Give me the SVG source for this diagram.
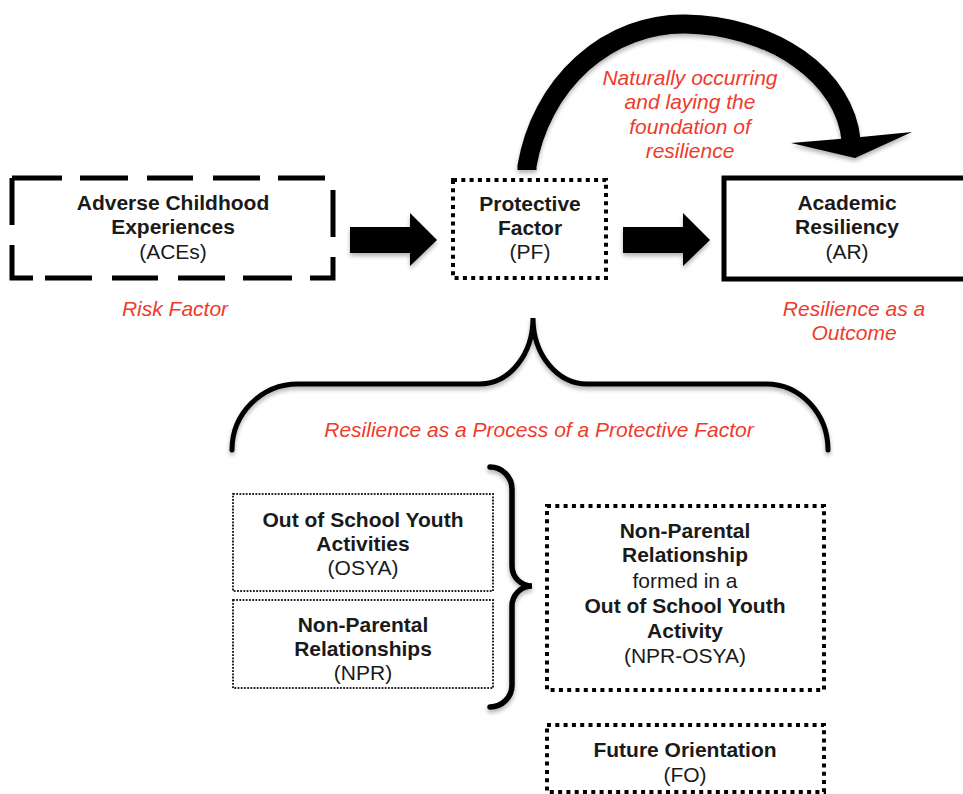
<svg xmlns="http://www.w3.org/2000/svg" width="963" height="794" viewBox="0 0 963 794">
  <defs>
    <filter id="shadow" x="-20%" y="-20%" width="140%" height="160%">
      <feDropShadow dx="0" dy="3" stdDeviation="2" flood-color="#000" flood-opacity="0.3"/>
    </filter>
  </defs>
  <style>
    text { font-family: "Liberation Sans", Arial, Helvetica, sans-serif; font-size: 21px; fill: #1a1a1a; text-anchor: middle; }
    .b { font-weight: bold; }
    .note { fill: #ee3b2b; font-style: italic; }
    .frame { fill: none; stroke: #000; }
    .dashed { stroke-width: 5; stroke-dasharray: 50 18 48 19 46 20 47 18 47 20 47 20 44 18 49 18 47 20 46 20 47 12 54 20 47 0; }
    .dotted { stroke-width: 4; stroke-dasharray: 4 4.3; }
    .fine { stroke-width: 2; stroke: #222; stroke-dasharray: 1.8 1.4; }
    .solid { stroke-width: 5; }
    .stroke { fill: none; stroke: #000; filter: url(#shadow); }
    .fillarrow { fill: #000; filter: url(#shadow); }
  </style>

  <rect width="963" height="794" fill="#fff"/>

  <!-- connectors -->
  <g id="connectors">
    <!-- ACEs to PF -->
    <polygon class="fillarrow" points="350,227 410,227 410,213 437,240 410,266 410,253 350,253"/>
    <!-- PF to AR -->
    <polygon class="fillarrow" points="623,227 683,227 683,213 710,240 683,266 683,253 623,253"/>
    <!-- curved arrow from PF over to AR -->
    <path class="stroke" stroke-width="19" d="M527,170 L527,166 A159,174 0 0,1 685,24 A170,125 0 0,1 851,140"/>
    <polygon class="fillarrow" points="791,143 851,138 912,132 855,158"/>
    <!-- brace under PF -->
    <path class="stroke" stroke-width="5" stroke-linecap="round"
          d="M232,450 A66,66 0 0,1 298,384 L480,384 A53,66 0 0,0 533,318 A54,66 0 0,0 587,384 L766,384 A62,66 0 0,1 828,450"/>
    <!-- brace grouping OSYA and NPR -->
    <path class="stroke" stroke-width="5.5" stroke-linecap="round"
          d="M490,467 A22,22 0 0,1 512,489 L512,566 A20,20 0 0,0 532,586 A20,20 0 0,0 512,606 L512,685 A22,22 0 0,1 490,707"/>
  </g>

  <!-- nodes -->
  <g id="aces">
    <path class="frame dashed" d="M12,178 H333 V278 H12 Z"/>
    <text class="b" x="173" y="210">Adverse Childhood</text>
    <text class="b" x="173" y="234">Experiences</text>
    <text x="173" y="259">(ACEs)</text>
    <text class="note" x="175" y="316">Risk Factor</text>
  </g>

  <g id="pf">
    <rect class="frame dotted" x="453" y="180" width="153" height="98"/>
    <text class="b" x="530" y="211">Protective</text>
    <text class="b" x="530" y="235">Factor</text>
    <text x="530" y="259">(PF)</text>
  </g>

  <g id="ar">
    <rect class="frame solid" x="724" y="178" width="252" height="101"/>
    <text class="b" x="847" y="210">Academic</text>
    <text class="b" x="847" y="234">Resiliency</text>
    <text x="847" y="259">(AR)</text>
    <text class="note" x="854" y="316">Resilience as a</text>
    <text class="note" x="854" y="340">Outcome</text>
  </g>

  <g id="curve-label">
    <text class="note" x="690" y="85">Naturally occurring</text>
    <text class="note" x="690" y="109">and laying the</text>
    <text class="note" x="690" y="134">foundation of</text>
    <text class="note" x="690" y="158">resilience</text>
  </g>

  <g id="process-label">
    <text class="note" x="539" y="437">Resilience as a Process of a Protective Factor</text>
  </g>

  <g id="osya">
    <rect class="frame fine" x="233" y="494" width="260" height="97"/>
    <text class="b" x="363" y="527">Out of School Youth</text>
    <text class="b" x="363" y="551">Activities</text>
    <text x="363" y="575">(OSYA)</text>
  </g>

  <g id="npr">
    <rect class="frame fine" x="233" y="600" width="260" height="88"/>
    <text class="b" x="363" y="632">Non-Parental</text>
    <text class="b" x="363" y="656">Relationships</text>
    <text x="363" y="680">(NPR)</text>
  </g>

  <g id="npr-osya">
    <rect class="frame dotted" x="547" y="506" width="277" height="184"/>
    <text class="b" x="685" y="538">Non-Parental</text>
    <text class="b" x="685" y="562">Relationship</text>
    <text x="685" y="588">formed in a</text>
    <text class="b" x="685" y="613">Out of School Youth</text>
    <text class="b" x="685" y="638">Activity</text>
    <text x="685" y="663">(NPR-OSYA)</text>
  </g>

  <g id="fo">
    <rect class="frame dotted" x="547" y="725" width="277" height="67"/>
    <text class="b" x="685" y="757">Future Orientation</text>
    <text x="685" y="782">(FO)</text>
  </g>
</svg>
